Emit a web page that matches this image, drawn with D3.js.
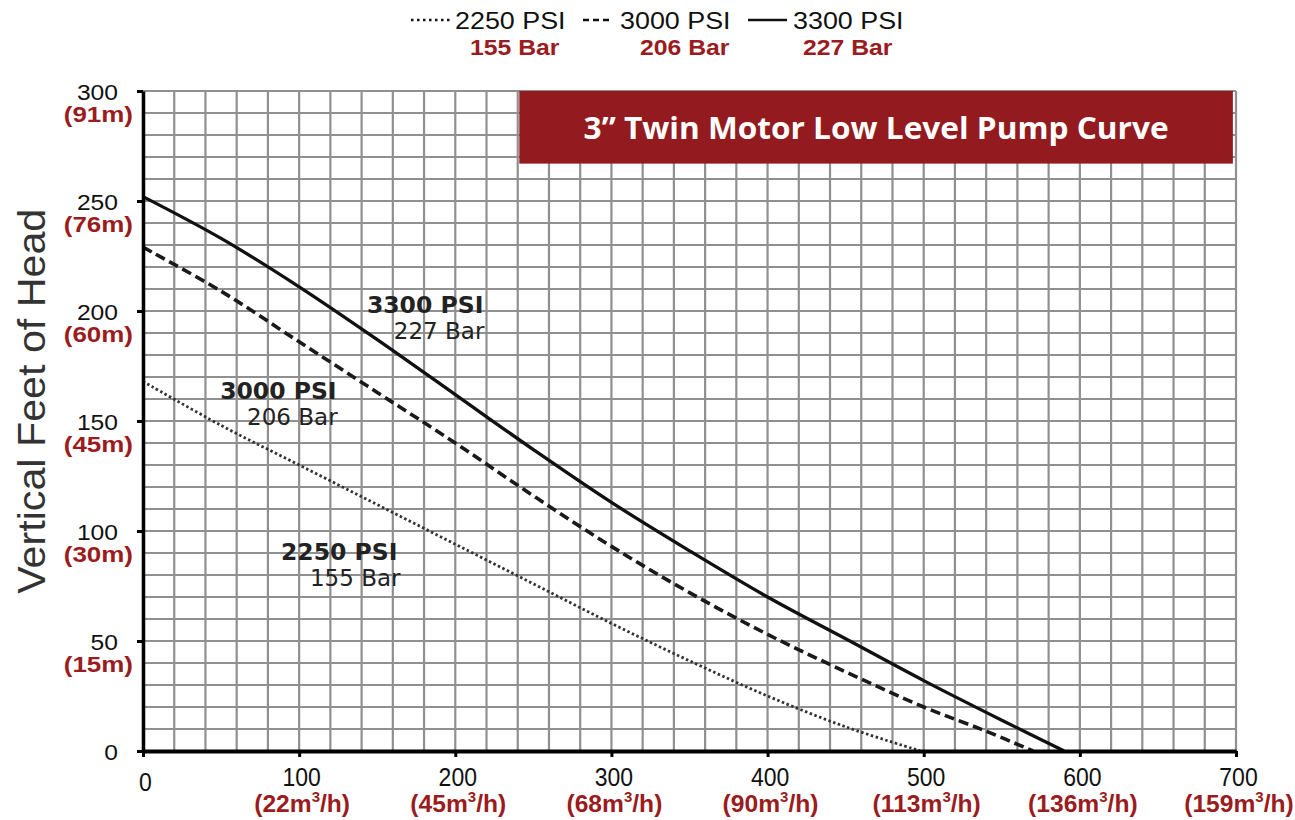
<!DOCTYPE html>
<html>
<head>
<meta charset="utf-8">
<script src="https://cdn.jsdelivr.net/npm/d3@7"></script>
<style>
  body { margin: 0; background: #fff; }
  svg { display: block; font-family: "Liberation Sans", Arial, sans-serif; }
</style>
</head>
<body>
<div id="chart"></div>
<script>
// pump curves: flow (GPM) vs head (ft)
const flow3300 = [0, 50, 100, 150, 200, 250, 300, 350, 400, 450, 500, 550, 590];
const head3300 = [252, 233, 211, 187, 162, 137, 113, 91, 70, 51, 32, 14, 0];
const flow3000 = [0, 50, 100, 150, 200, 250, 300, 350, 400, 450, 500, 540, 570];
const head3000 = [229, 209, 186, 163, 140, 116, 93, 72, 53, 36, 20, 9, 0];
const flow2250 = [0, 50, 100, 150, 200, 250, 300, 350, 400, 450, 498];
const head2250 = [168, 148, 130, 112, 94, 76, 58, 41, 25, 11, 0];

const seriesPsi = ['2250 PSI', '3000 PSI', '3300 PSI'];
const seriesBar = ['155 Bar', '206 Bar', '227 Bar'];

const yTicks = [0, 50, 100, 150, 200, 250, 300];
const yMetric = ['', '(15m)', '(30m)', '(45m)', '(60m)', '(76m)', '(91m)'];
const xTicks = [0, 100, 200, 300, 400, 500, 600, 700];
const xMetric = ['', '22', '45', '68', '90', '113', '136', '159'];

const titleText = '3\u201D Twin Motor Low Level Pump Curve';
const yTitle = 'Vertical Feet of Head';

const red = '#9b1c20';
const svgwidth = 1295;
const svgheight = 820;
const margin = { left: 143, right: 59, top: 91, bottom: 69 };

const svg = d3.select('#chart').append('svg')
  .attr('width', svgwidth)
  .attr('height', svgheight);

const x = d3.scaleLinear().domain([0, 700]).range([margin.left, svgwidth - margin.right]);
const y = d3.scaleLinear().domain([0, 300]).range([svgheight - margin.bottom, margin.top]);

// stretch text horizontally to match the picture
function stretch(sel, k) {
  sel.each(function () {
    const w = this.getComputedTextLength();
    d3.select(this).attr('textLength', w * k).attr('lengthAdjust', 'spacingAndGlyphs');
  });
}

// grid
const grid = svg.append('g').attr('class', 'grid')
  .attr('stroke', '#909090')
  .attr('stroke-width', 2.2);
grid.selectAll('.vline')
  .data(d3.range(0, 701, 20))
  .enter().append('line')
  .attr('x1', d => x(d)).attr('x2', d => x(d))
  .attr('y1', y(0)).attr('y2', y(300));
grid.selectAll('.hline')
  .data(d3.range(0, 301, 10))
  .enter().append('line')
  .attr('x1', x(0)).attr('x2', x(700))
  .attr('y1', d => y(d)).attr('y2', d => y(d));

// title box
const tb = svg.append('g');
tb.append('rect')
  .attr('x', x(241)).attr('y', y(300))
  .attr('width', x(698) - x(241))
  .attr('height', y(267) - y(300))
  .attr('fill', '#931a1e');
tb.append('text')
  .attr('x', (x(241) + x(698)) / 2)
  .attr('y', y(300) + 48)
  .attr('text-anchor', 'middle')
  .attr('fill', '#fff')
  .attr('font-family', '"Open Sans", sans-serif')
  .attr('font-weight', 700)
  .attr('font-size', 31)
  .attr('textLength', 585)
  .attr('lengthAdjust', 'spacingAndGlyphs')
  .text(titleText);

// curves
const line = d3.line()
  .x(d => x(d[0]))
  .y(d => y(d[1]))
  .curve(d3.curveCatmullRom.alpha(0.5));

const curves = [
  { flow: flow2250, head: head2250, width: 2.8, dash: '2.5,2.5', color: '#333' },
  { flow: flow3000, head: head3000, width: 3.6, dash: '10,5', color: '#1a1a1a' },
  { flow: flow3300, head: head3300, width: 3.3, dash: null, color: '#111' }
];
curves.forEach(c => {
  svg.append('path')
    .attr('d', line(c.flow.map((f, i) => [f, c.head[i]])))
    .attr('fill', 'none')
    .attr('stroke', c.color)
    .attr('stroke-width', c.width)
    .attr('stroke-dasharray', c.dash);
});

// curve labels
const labelPos = [
  { x: 163, y: 87 }, // 2250
  { x: 124, y: 160 }, // 3000
  { x: 218, y: 199 } // 3300
];
labelPos.forEach((p, i) => {
  svg.append('text')
    .attr('x', x(p.x)).attr('y', y(p.y))
    .attr('text-anchor', 'end')
    .attr('font-family', '"DejaVu Sans", sans-serif')
    .attr('font-weight', 700)
    .attr('font-size', 23.5)
    .attr('fill', '#222')
    .text(seriesPsi[i]);
  svg.append('text')
    .attr('x', x(p.x) + (i === 0 ? 3 : 1)).attr('y', y(p.y) + 26)
    .attr('text-anchor', 'end')
    .attr('font-family', '"DejaVu Sans", sans-serif')
    .attr('font-size', 23)
    .attr('fill', '#222')
    .text(seriesBar[i]);
});

// y axis
const yAxis = svg.append('g')
  .attr('transform', `translate(${x(0)},0)`)
  .call(d3.axisLeft(y).tickValues(yTicks).tickSize(6).tickSizeOuter(0).tickPadding(19));
yAxis.select('.domain').attr('stroke', '#000').attr('stroke-width', 3.5);
yAxis.selectAll('.tick line').attr('stroke', '#000').attr('stroke-width', 3);
yAxis.selectAll('.tick text')
  .attr('font-size', 22)
  .attr('font-family', '"Liberation Sans", Arial, sans-serif')
  .attr('fill', '#111')
  .attr('dy', 8);
stretch(yAxis.selectAll('.tick text'), 1.12);

const yRed = svg.append('g').selectAll('text')
  .data(yTicks.filter((d, i) => yMetric[i]))
  .enter().append('text')
  .attr('x', x(0) - 10)
  .attr('y', d => y(d) + 31)
  .attr('text-anchor', 'end')
  .attr('font-size', 22)
  .attr('font-weight', 700)
  .attr('fill', red)
  .text(d => yMetric[yTicks.indexOf(d)]);
stretch(yRed, 1.18);

// x axis
const xAxis = svg.append('g')
  .attr('transform', `translate(0,${y(0)})`)
  .call(d3.axisBottom(x).tickValues(xTicks).tickSize(6).tickSizeOuter(0).tickPadding(13));
xAxis.select('.domain').attr('stroke', '#000').attr('stroke-width', 4);
xAxis.selectAll('.tick line').attr('stroke', '#000').attr('stroke-width', 3);
xAxis.selectAll('.tick text')
  .attr('font-size', 25)
  .attr('font-family', '"Liberation Sans", Arial, sans-serif')
  .attr('fill', '#111')
  .attr('dx', 2)
  .attr('dy', d => (d === 0 ? 21 : 16));
stretch(xAxis.selectAll('.tick text'), 0.92);

const xRed = svg.append('g').selectAll('text')
  .data(xTicks.filter((d, i) => xMetric[i]))
  .enter().append('text')
  .attr('x', d => x(d) + 3)
  .attr('y', y(0) + 61)
  .attr('text-anchor', 'middle')
  .attr('font-size', 23)
  .attr('font-weight', 700)
  .attr('fill', red);
xRed.append('tspan').text(d => `(${xMetric[xTicks.indexOf(d)]}m`);
xRed.append('tspan').attr('font-size', 14).attr('dy', -10).text('3');
xRed.append('tspan').attr('dy', 10).text('/h)');
stretch(xRed, 1.07);

// y title
svg.append('text')
  .attr('transform', `translate(45,${y(159)}) rotate(-90)`)
  .attr('text-anchor', 'middle')
  .attr('font-size', 39)
  .attr('fill', '#333')
  .attr('textLength', 385)
  .attr('lengthAdjust', 'spacingAndGlyphs')
  .text(yTitle);

// legend on top
const legend = svg.append('g').attr('class', 'legend');
const legendItems = [
  { x1: 411, x2: 453, tx: 455, bx: 470, dash: '2.5,3.5', w: 2.5 },
  { x1: 583, x2: 611, tx: 620, bx: 640, dash: '6,4', w: 2.5 },
  { x1: 748, x2: 787, tx: 793, bx: 803, dash: null, w: 2.5 }
];
legendItems.forEach((d, i) => {
  legend.append('line')
    .attr('x1', d.x1).attr('x2', d.x2)
    .attr('y1', 20).attr('y2', 20)
    .attr('stroke', '#111')
    .attr('stroke-width', d.w)
    .attr('stroke-dasharray', d.dash);
  const t = legend.append('text')
    .attr('x', d.tx).attr('y', 29)
    .attr('font-size', 24)
    .attr('fill', '#111')
    .text(seriesPsi[i]);
  stretch(t, 1.12);
  const b = legend.append('text')
    .attr('x', d.bx).attr('y', 55)
    .attr('font-size', 22.5)
    .attr('font-weight', 700)
    .attr('fill', red)
    .text(seriesBar[i]);
  stretch(b, 1.1);
});
</script>
</body>
</html>
